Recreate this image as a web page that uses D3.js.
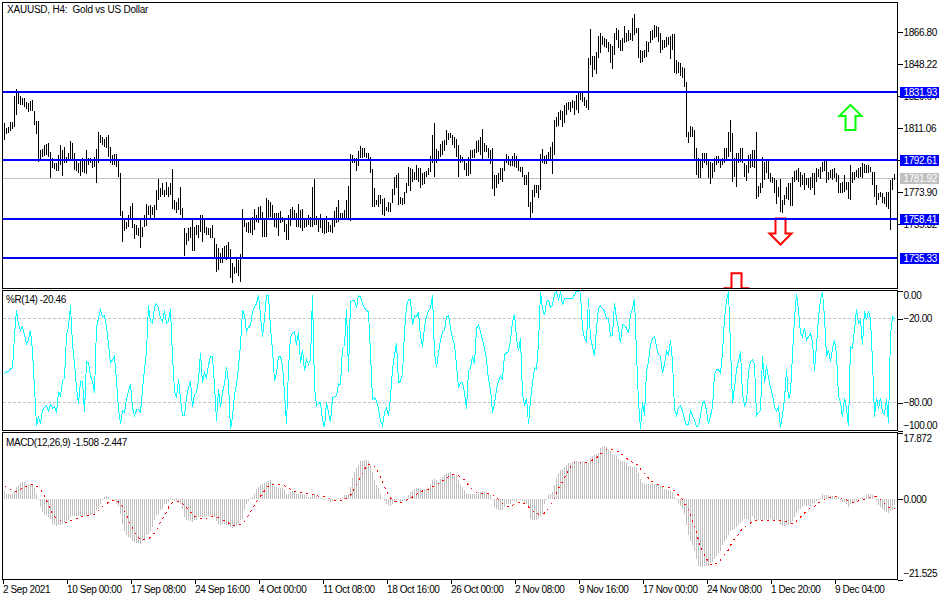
<!DOCTYPE html>
<html>
<head>
<meta charset="utf-8">
<script src="https://cdnjs.cloudflare.com/ajax/libs/d3/7.8.5/d3.min.js"></script>
<style>
  html, body { margin: 0; padding: 0; background: #fff; }
  svg { display: block; }
  text { font-family: "Liberation Sans", sans-serif; font-size: 10px; letter-spacing: -0.4px; fill: #000; }
</style>
</head>
<body>
<div id="chart"></div>
<script>
// H4 bars
const highs = [
1813.9,1811.0,1811.6,1814.7,1814.7,1829.8,1833.6,1831.3,1829.8,1828.4,1828.4,1826.5,1825.5,1827.1,1827.5,1821.3,1815.5,1815.3,1798.4,1798.8,
1801.3,1801.9,1802.3,1797.5,1793.6,1791.1,1790.7,1795.5,1801.1,1798.4,1800.4,1794.6,1796.5,1803.5,1802.3,1796.5,1792.6,1790.7,1793.0,1793.6,
1792.6,1798.4,1793.6,1793.6,1792.6,1794.6,1798.8,1808.7,1807.1,1805.8,1804.6,1805.8,1807.1,1800.4,1795.5,1796.1,1796.1,1792.6,1784.9,1763.2,
1757.8,1756.8,1760.7,1765.9,1767.5,1755.5,1754.9,1753.0,1758.8,1753.5,1760.7,1767.1,1765.9,1766.5,1765.5,1766.5,1775.2,1781.4,1776.2,1779.1,
1775.2,1780.0,1777.1,1779.1,1787.2,1769.4,1768.4,1770.4,1777.1,1764.6,1753.0,1750.1,1753.0,1753.9,1757.8,1753.9,1754.9,1754.9,1760.7,1760.7,
1757.8,1753.9,1753.0,1753.0,1754.9,1747.1,1743.9,1741.3,1738.8,1741.3,1742.7,1743.3,1745.2,1740.8,1732.6,1730.7,1735.5,1734.6,1738.1,1764.0,
1758.8,1755.9,1756.8,1757.8,1759.7,1764.0,1760.7,1765.5,1765.9,1762.6,1758.8,1770.4,1769.4,1768.4,1766.5,1761.7,1762.0,1761.7,1763.2,1759.7,
1757.8,1755.5,1760.7,1764.0,1765.1,1763.6,1761.7,1767.1,1763.6,1764.0,1758.8,1757.8,1760.7,1759.7,1776.8,1781.4,1760.1,1757.8,
1761.3,1758.8,1758.8,1760.1,1756.8,1754.9,1758.8,1763.2,1765.1,1769.4,1761.7,1761.7,1763.6,1769.4,1777.5,1796.1,1795.5,1793.6,1793.6,1797.8,
1800.7,1799.4,1799.4,1796.5,1796.5,1794.6,1787.2,1776.2,1769.4,1772.3,1772.3,1769.8,1770.4,1765.5,1768.4,1767.5,1775.6,1783.0,1783.9,1784.9,
1771.3,1770.4,1774.2,1779.1,1788.4,1787.8,1787.2,1785.8,1789.7,1787.8,1787.8,1784.9,1785.8,1786.4,1787.8,1794.9,1807.1,1813.9,1798.8,1798.0,
1801.9,1803.8,1804.2,1810.0,1808.1,1808.5,1807.1,1806.2,1804.6,1801.3,1795.5,1794.2,1792.6,1790.7,1794.6,1798.4,1798.4,1798.8,1803.5,1804.2,
1805.8,1810.4,1802.3,1801.3,1799.4,1798.4,1799.4,1783.9,1783.9,1784.9,1787.8,1787.8,1792.6,1796.1,1794.9,1793.0,1794.9,1796.5,1794.9,1793.0,
1788.8,1788.4,1783.9,1783.9,1785.5,1768.4,1775.2,1778.1,1778.1,1778.1,1796.1,1798.8,1794.9,1795.5,1797.5,1800.0,1803.3,1815.8,1817.8,1820.7,
1821.6,1821.3,1824.5,1825.5,1826.5,1826.5,1827.5,1827.1,1830.4,1832.3,1832.3,1831.3,1829.4,1827.5,1851.6,1868.5,1853.0,1853.0,1855.5,1864.6,
1866.2,1864.6,1863.2,1862.7,1861.3,1860.0,1858.8,1866.2,1869.1,1868.1,1862.3,1863.2,1870.4,1866.2,1868.1,1866.5,1874.9,1877.4,1869.1,1869.1,
1856.5,1856.1,1856.5,1861.9,1861.3,1867.7,1868.1,1871.0,1870.4,1869.6,1866.5,1862.3,1862.3,1864.2,1863.8,1864.6,1865.8,1865.8,1850.7,1849.7,
1848.7,1846.8,1845.8,1838.1,1809.1,1812.4,1812.0,1810.0,1799.4,1793.6,1793.0,1796.5,1796.5,1796.9,1792.6,1791.7,1790.7,1793.6,1794.9,1794.9,
1792.6,1793.6,1799.4,1799.4,1809.1,1815.8,1808.5,1793.6,1796.5,1796.9,1799.4,1799.4,1790.7,1789.7,1795.5,1796.1,1798.4,1798.4,1808.9,1777.5,
1779.1,1794.6,1791.7,1792.2,1792.6,1784.9,1783.0,1782.0,1781.0,1777.1,1781.6,1769.4,1772.3,1777.1,1779.1,1779.1,1783.0,1786.4,1786.8,1787.8,
1785.8,1783.9,1784.9,1782.0,1782.0,1783.0,1784.9,1785.3,1787.8,1787.2,1788.4,1791.7,1792.2,1792.2,1785.8,1786.8,1787.2,1787.8,1784.9,1783.9,
1779.5,1780.0,1783.9,1780.0,1780.0,1789.7,1785.8,1785.8,1786.8,1787.8,1788.8,1791.1,1790.3,1789.7,1789.7,1788.8,1785.8,1785.8,1778.1,1773.7,
1774.2,1773.3,1771.3,1774.2,1774.2,1781.0,1782.0,1784.5
];
const lows = [
1804.2,1807.7,1808.5,1809.6,1810.4,1811.6,1818.7,1825.1,1824.5,1824.4,1823.2,1822.0,1820.7,1821.3,1821.3,1812.9,1807.7,1791.7,1792.6,1794.2,
1794.9,1795.5,1794.6,1782.4,1787.8,1787.2,1786.4,1786.4,1789.7,1783.3,1790.7,1790.7,1793.0,1793.0,1792.6,1786.8,1786.2,1784.9,1783.3,1785.8,
1784.9,1784.5,1789.7,1790.7,1787.8,1788.4,1779.5,1790.7,1802.3,1801.3,1800.4,1799.4,1794.6,1790.7,1789.7,1789.7,1788.8,1782.9,1760.1,1745.2,
1751.6,1752.4,1753.9,1758.8,1753.0,1747.0,1749.1,1748.5,1741.7,1748.1,1753.9,1754.3,1760.7,1758.8,1760.7,1758.8,1763.6,1769.4,1771.3,1772.3,
1771.3,1772.3,1771.3,1772.3,1764.0,1763.6,1761.7,1763.6,1760.7,1758.2,1736.9,1743.3,1745.8,1747.1,1740.0,1740.0,1749.1,1747.1,1751.0,1745.2,
1750.1,1749.1,1749.1,1747.1,1747.1,1735.5,1727.8,1728.8,1732.6,1732.6,1735.5,1734.6,1735.5,1723.9,1721.4,1726.4,1726.8,1725.3,1722.0,1735.0,
1753.9,1751.0,1750.4,1750.1,1749.1,1752.0,1756.8,1755.9,1757.8,1748.1,1747.7,1747.7,1757.8,1759.7,1757.8,1753.9,1753.0,1748.5,1755.9,1756.8,
1751.0,1746.2,1746.2,1754.3,1758.8,1757.8,1753.9,1753.9,1753.0,1751.6,1753.0,1753.5,1754.9,1753.9,1753.9,1754.9,1754.9,1751.0,
1753.0,1750.1,1749.7,1750.1,1751.0,1750.6,1750.4,1753.9,1755.9,1756.8,1757.8,1758.8,1758.8,1757.8,1758.8,1757.2,1790.7,1790.7,1786.2,1789.3,
1793.6,1793.6,1794.6,1793.6,1792.6,1785.3,1765.1,1765.5,1766.5,1765.1,1767.1,1760.7,1760.3,1763.2,1762.6,1762.6,1767.5,1772.3,1776.2,1766.5,
1767.1,1766.5,1767.1,1773.3,1777.5,1774.8,1780.0,1781.0,1781.0,1780.0,1776.6,1778.1,1778.7,1783.0,1783.9,1785.8,1790.7,1783.0,1791.1,1793.0,
1794.6,1795.5,1798.0,1801.3,1804.2,1805.2,1801.3,1799.4,1794.6,1782.6,1790.7,1791.7,1786.8,1783.5,1783.5,1784.5,1793.6,1793.6,1796.5,1797.5,
1795.5,1792.6,1797.5,1797.5,1793.6,1790.3,1776.0,1771.9,1776.2,1778.7,1781.0,1780.0,1786.4,1790.7,1789.7,1789.1,1789.1,1788.8,1787.8,1786.4,
1785.8,1783.0,1778.1,1778.1,1765.5,1758.8,1761.7,1771.3,1773.3,1770.8,1775.2,1790.7,1790.3,1790.3,1792.6,1793.0,1784.5,1795.5,1812.0,1812.4,
1815.8,1812.0,1813.9,1818.7,1821.6,1820.7,1822.6,1818.7,1821.6,1819.7,1827.5,1826.5,1824.0,1822.6,1821.6,1847.8,1841.0,1844.9,1842.5,1851.6,
1854.9,1859.4,1858.4,1857.4,1855.5,1849.1,1845.3,1853.6,1862.3,1857.4,1856.1,1856.1,1860.3,1861.3,1861.9,1862.3,1861.9,1865.2,1866.2,1851.6,
1849.1,1849.7,1851.6,1852.6,1855.5,1860.3,1862.3,1863.2,1864.2,1861.3,1854.9,1856.5,1857.4,1858.4,1859.4,1851.1,1856.5,1842.9,1842.5,1843.3,
1841.4,1840.0,1834.8,1806.2,1802.3,1806.2,1806.2,1792.6,1783.9,1782.0,1782.0,1787.8,1790.7,1789.7,1782.0,1778.5,1782.0,1785.8,1789.7,1790.7,
1787.8,1789.7,1790.7,1792.6,1794.6,1797.5,1780.0,1783.0,1777.1,1790.7,1791.6,1790.7,1783.0,1780.6,1784.9,1787.8,1788.8,1787.8,1769.8,1771.3,
1773.3,1776.2,1781.0,1784.9,1781.4,1780.0,1779.1,1773.3,1767.1,1771.3,1762.6,1761.7,1766.5,1769.8,1769.4,1765.9,1765.9,1780.0,1781.0,1780.0,
1777.1,1778.1,1775.2,1778.1,1776.2,1775.2,1776.2,1772.3,1780.0,1783.0,1781.4,1785.8,1786.4,1779.5,1781.0,1782.0,1781.0,1782.0,1780.0,1773.7,
1773.7,1773.3,1774.2,1775.2,1769.8,1769.4,1779.1,1781.0,1783.0,1782.0,1783.0,1782.0,1784.9,1784.9,1784.9,1785.8,1778.1,1771.3,1766.5,1769.4,
1771.3,1767.5,1767.1,1765.5,1764.0,1752.0,1775.2,1781.0
];
const wpr = [
-59.5,-58.1,-58.1,-55.8,-55.3,-32.2,-14.1,-24.2,-28.2,-25.9,-31.8,-38.4,-35.3,-28.2,-43.5,-69.4,-96.5,-90.6,-95.3,
-85.4,-83.5,-82.4,-85.9,-81.6,-84.0,-83.1,-87.1,-72.9,-75.3,-64.7,-62.4,-31.8,-25.9,-10.6,-38.8,-51.8,-69.4,-81.2,-64.7,
-64.7,-87.1,-50.6,-51.8,-61.2,-64.7,-72.9,-25.9,-20.0,-14.1,-18.8,-18.1,-25.9,-38.8,-51.8,-49.4,-47.1,-64.7,-84.7,-95.3,
-85.9,-87.1,-77.6,-71.8,-67.1,-83.5,-89.4,-85.4,-84.7,-87.1,-70.6,-56.5,-43.5,-10.6,-22.4,-23.5,-11.8,-9.4,-12.9,-20.0,
-22.4,-14.1,-23.5,-22.4,-12.9,-47.1,-71.8,-76.5,-63.5,-77.6,-89.4,-89.4,-76.5,-69.4,-64.7,-83.5,-74.1,-72.9,-63.5,-44.7,
-65.9,-58.8,-62.4,-52.9,-47.1,-47.1,-67.1,-92.9,-70.6,-83.5,-72.9,-67.1,-54.8,-65.9,-98.8,-90.6,-74.1,-67.1,-54.1,-38.8,
-14.1,-17.6,-29.4,-25.9,-24.7,-15.3,-11.8,-9.4,-3.5,-17.6,-32.9,-20.0,-3.5,-3.5,-27.1,-42.4,-64.7,-58.8,-47.1,-47.1,
-52.9,-72.9,-95.3,-55.3,-32.9,-30.6,-29.4,-38.8,-29.4,-51.8,-42.4,-57.6,-49.4,-52.9,-49.4,-3.5,-69.4,-82.4,-80.7,
-80.0,-92.9,-97.6,-80.0,-87.1,-94.1,-76.5,-76.0,-75.3,-66.6,-67.1,-41.2,-40.0,-12.9,-58.1,-8.2,-7.3,-7.3,-12.5,-3.5,
-4.7,-9.4,-12.5,-14.1,-15.3,-44.7,-77.6,-76.5,-78.8,-84.7,-92.9,-96.5,-87.1,-84.0,-89.4,-76.5,-56.5,-45.9,-37.6,-65.9,
-64.7,-60.0,-29.4,-11.8,-6.4,-6.4,-24.7,-18.1,-18.8,-15.3,-32.9,-40.0,-25.9,-18.8,-14.1,-12.9,-3.5,-44.7,-54.8,-44.7,
-35.3,-29.4,-28.2,-18.8,-18.1,-27.1,-34.1,-38.8,-52.9,-69.4,-65.9,-65.9,-72.9,-84.7,-57.6,-55.3,-47.1,-52.5,-27.1,-24.7,
-29.4,-35.3,-41.2,-49.4,-63.5,-70.6,-87.1,-81.2,-70.6,-64.7,-61.2,-63.5,-45.9,-44.7,-43.5,-35.3,-22.4,-16.5,-34.1,-43.5,
-34.1,-74.1,-82.4,-76.5,-95.3,-78.8,-65.9,-55.3,-56.5,-37.6,-1.2,-12.9,-17.6,-7.8,-7.1,-11.8,-10.6,-2.4,-0.7,-7.1,
-0.7,-10.6,-5.4,-5.4,-5.9,-5.9,-5.4,-3.1,-0.7,-0.7,-2.4,-27.1,-34.1,-36.5,-5.4,-34.1,-40.0,-47.1,-27.1,-12.9,
-11.1,-12.9,-14.8,-20.0,-20.0,-32.9,-31.8,-8.7,-20.0,-27.1,-37.6,-24.2,-24.7,-27.1,-30.6,-17.6,-12.9,-5.9,-44.7,-80.0,
-98.8,-80.0,-89.4,-57.6,-50.6,-38.8,-34.1,-32.9,-40.0,-45.9,-47.1,-58.8,-52.9,-43.5,-45.9,-35.3,-50.6,-84.7,-89.4,-83.5,
-82.4,-85.9,-91.8,-96.5,-95.3,-85.9,-89.4,-92.9,-97.2,-96.5,-89.4,-80.0,-79.3,-85.9,-95.3,-89.4,-83.5,-60.0,-56.5,-56.5,
-58.8,-44.7,-20.0,-7.1,-0.7,-40.0,-80.0,-69.4,-56.5,-50.6,-43.5,-74.1,-82.4,-80.0,-57.6,-50.6,-49.4,-52.9,-89.4,-87.1,
-85.9,-47.1,-65.9,-54.1,-62.4,-69.4,-74.1,-83.5,-85.9,-83.5,-97.6,-89.4,-77.6,-56.5,-77.6,-72.9,-45.9,-20.0,-2.4,-14.1,
-30.6,-32.9,-27.1,-35.3,-32.9,-30.6,-36.5,-57.6,-38.8,-20.0,-5.9,-1.2,-18.8,-47.1,-42.4,-51.1,-41.2,-35.3,-45.9,-75.3,
-80.0,-90.6,-76.5,-84.7,-96.5,-40.0,-41.2,-28.2,-13.4,-23.5,-21.2,-38.8,-14.8,-21.2,-14.8,-20.0,-50.6,-90.1,-76.5,-84.7,
-76.5,-87.1,-88.2,-77.6,-94.8,-31.8,-18.8,-20.46
];
const macdHist = [
2.2,1.5,1.3,1.5,1.5,2.2,3.3,3.8,4.4,4.7,4.7,4.2,3.8,4.0,4.2,2.9,1.5,-0.1,-2.2,-3.4,
-3.9,-4.3,-4.9,-5.2,-6.6,-6.8,-7.2,-7.0,-6.8,-6.6,-6.1,-5.8,-5.5,-4.9,-4.6,-4.6,-4.6,-4.6,-4.6,-4.6,
-4.3,-4.5,-4.5,-4.2,-4.0,-3.9,-3.0,-2.5,-1.3,-0.1,0.6,0.9,0.6,-0.3,-0.4,-0.4,-1.3,-1.9,-3.9,-6.6,
-8.4,-9.7,-10.2,-10.3,-11.2,-11.5,-11.7,-11.8,-12.1,-11.2,-10.6,-9.7,-9.3,-8.4,-7.5,-5.7,-4.3,-3.9,-3.0,-2.5,
-1.3,-1.3,-0.7,0.2,-0.1,-0.4,-0.4,-1.0,-1.2,-2.5,-4.9,-5.5,-5.7,-5.8,-6.1,-5.7,-5.5,-4.9,-4.8,-4.9,
-4.8,-4.6,-4.6,-4.6,-4.6,-4.9,-5.8,-6.6,-7.0,-6.7,-6.6,-7.0,-7.2,-7.5,-7.6,-7.5,-7.3,-7.0,-5.7,-5.2,
-2.8,-1.3,-0.4,0.2,0.6,1.5,2.6,3.3,3.8,4.2,4.4,4.7,4.9,5.1,4.4,3.5,3.3,3.1,3.1,3.1,
2.6,1.5,1.3,2.0,2.2,2.0,1.5,1.5,1.7,1.5,1.1,1.1,0.6,0.6,1.5,1.5,0.8,0.2,
0.2,0.2,-0.1,-0.3,-0.4,-0.7,-0.4,-0.3,-0.1,0.2,0.4,0.6,1.1,1.1,1.5,3.3,5.6,7.4,8.3,9.2,
10.1,10.3,10.5,10.5,10.3,9.2,7.4,5.1,3.8,2.9,1.5,0.2,-0.4,-1.2,-1.6,-1.9,-1.3,-0.4,-0.1,-0.3,
-0.7,-0.4,-0.1,-0.1,1.1,2.0,2.2,2.6,2.9,2.9,2.6,2.4,2.6,2.6,2.9,4.0,5.1,5.3,5.1,4.7,
5.3,6.0,6.5,6.9,7.1,7.4,6.5,6.7,6.5,5.1,3.8,3.3,2.4,1.5,1.3,1.3,1.3,1.5,1.5,2.0,
2.0,2.2,2.0,2.0,1.5,1.1,-0.1,-2.2,-2.5,-2.8,-2.8,-3.0,-2.2,-1.3,-1.2,-1.2,-0.4,-0.4,-0.7,-0.1,
-0.1,-0.4,-1.0,-1.3,-1.9,-5.2,-5.5,-5.7,-5.7,-5.2,-4.6,-3.9,-1.3,-0.1,1.1,1.5,2.0,3.8,5.6,6.9,
7.8,8.0,8.5,9.2,9.6,9.8,9.9,10.1,10.1,9.9,9.6,10.1,9.9,9.6,9.6,11.0,11.6,11.9,12.1,12.5,
13.7,14.1,14.3,14.1,13.2,12.8,12.1,11.9,11.6,10.7,10.3,10.1,9.9,9.6,8.9,8.9,8.7,8.7,8.3,6.9,
5.3,4.4,4.2,4.2,4.0,4.2,4.4,4.2,4.0,3.8,3.5,3.3,2.6,2.6,2.4,2.2,2.0,0.6,-0.3,-1.0,
-1.9,-2.5,-3.9,-7.0,-9.7,-11.1,-12.4,-13.9,-16.0,-17.8,-18.3,-18.3,-17.8,-17.8,-17.8,-17.2,-16.9,-16.0,-15.1,-14.5,
-13.8,-12.4,-11.5,-10.6,-9.7,-8.5,-8.2,-7.9,-7.5,-7.0,-6.4,-5.8,-5.2,-5.2,-5.5,-6.1,-4.6,-5.2,-5.7,-5.7,
-5.5,-5.7,-5.5,-5.5,-5.5,-5.2,-5.5,-5.5,-5.7,-5.8,-7.0,-7.3,-7.3,-7.0,-7.0,-6.7,-5.8,-4.9,-3.7,-3.0,
-2.5,-2.2,-1.6,-1.9,-1.6,-1.9,-1.3,-1.0,-0.4,-0.1,0.2,1.3,1.1,1.1,1.1,0.8,0.8,0.6,0.2,0.6,
-0.1,-0.7,-0.7,-1.2,-2.1,-1.3,-1.0,-0.7,-0.4,-0.7,0.2,0.6,0.2,1.1,1.3,1.5,1.1,0.2,-0.4,-1.6,
-2.2,-2.5,-3.1,-3.4,-3.7,-3.1,-2.8,-1.508
];
const macdSignal = [
3.6,3.1,2.9,2.6,2.2,2.0,2.2,2.4,2.6,2.9,3.1,3.5,3.8,4.0,4.0,4.0,3.5,3.1,2.6,1.7,
0.8,-0.3,-1.6,-2.8,-3.9,-4.6,-5.1,-5.4,-5.7,-6.0,-6.3,-6.3,-6.1,-5.8,-5.7,-5.5,-5.2,-4.9,-4.8,-4.6,
-4.5,-4.5,-4.5,-4.4,-4.2,-4.0,-3.7,-3.1,-2.5,-1.9,-1.7,-1.3,-0.7,-0.4,-0.3,-0.3,-0.3,-0.7,-1.3,-2.1,
-3.1,-4.3,-5.5,-6.6,-7.7,-8.8,-9.7,-10.2,-10.8,-10.9,-10.9,-10.8,-10.6,-10.2,-9.7,-9.1,-8.2,-7.0,-6.1,-5.2,
-4.3,-3.4,-2.2,-1.3,-1.0,-0.6,-0.5,-0.6,-0.7,-1.2,-1.6,-2.2,-2.8,-3.4,-3.9,-4.5,-4.9,-5.3,-5.3,-5.3,
-5.2,-5.1,-4.9,-4.8,-4.6,-4.6,-4.8,-5.0,-5.2,-5.5,-5.8,-6.0,-6.4,-6.7,-7.0,-7.1,-7.1,-7.0,-6.8,-6.6,
-6.0,-5.2,-4.3,-3.4,-2.5,-1.6,-0.7,0.2,0.8,1.5,2.2,3.1,3.5,3.9,4.0,4.0,4.0,4.0,4.0,4.0,
3.6,3.1,2.9,2.6,2.2,2.0,1.9,1.7,1.7,1.7,1.5,1.5,1.3,1.3,1.3,1.3,1.1,0.8,
0.6,0.7,0.6,0.4,0.4,0,-0.4,-0.4,-0.4,-0.4,-0.4,-0.1,0.2,0.2,0.6,1.1,1.8,2.9,3.8,4.9,
6.0,6.9,8.0,8.9,9.4,9.4,9.2,8.7,8.0,7.1,5.8,4.7,3.3,2.2,1.1,0.4,-0.3,-0.5,-0.7,-0.8,
-0.9,-0.9,-0.6,-0.3,-0.1,0.3,0.6,0.9,1.3,1.5,1.9,2.2,2.4,2.6,2.6,2.9,3.3,3.6,3.8,4.2,
4.7,4.9,5.3,5.8,6.0,6.4,6.5,6.6,6.6,6.3,6.0,5.6,5.1,4.4,3.8,3.1,2.6,2.2,1.8,1.7,
1.7,1.5,1.5,1.5,1.5,1.5,1.3,0.8,0.3,-0.1,-0.6,-1.2,-1.6,-1.9,-1.9,-1.9,-1.6,-1.3,-1.2,-1.0,
-0.8,-0.8,-1.2,-1.6,-2.1,-2.5,-3.0,-3.5,-3.9,-4.0,-4.1,-4.0,-3.7,-3.2,-2.5,-1.6,-0.5,0.2,1.5,2.9,
3.8,4.7,5.6,6.9,7.8,8.7,9.4,9.9,10.1,10.1,9.9,9.9,9.9,9.9,10.1,10.3,10.5,10.7,11.0,11.6,
12.1,12.5,13.0,13.2,13.2,13.4,13.4,13.4,13.0,12.8,12.3,11.9,11.4,11.0,10.5,10.3,9.9,9.6,9.4,9.2,
8.0,7.6,6.9,6.3,5.6,4.7,4.7,4.4,4.0,3.9,3.8,3.5,3.1,3.1,3.1,2.9,2.6,2.2,1.7,1.1,
0.4,-0.1,-1.3,-1.9,-3.0,-4.3,-5.8,-7.5,-8.8,-11.1,-12.7,-13.8,-15.1,-16.0,-16.6,-17.4,-17.6,-17.6,-17.2,-16.9,
-16.3,-15.4,-14.8,-14.2,-13.6,-12.4,-11.5,-10.6,-10.2,-9.3,-8.5,-7.9,-7.5,-7.0,-6.7,-6.4,-6.1,-5.8,-5.8,-5.8,
-5.8,-5.7,-5.7,-5.7,-5.7,-5.7,-5.7,-5.7,-5.8,-5.8,-5.8,-5.9,-6.0,-6.0,-6.2,-6.5,-6.6,-6.4,-5.8,-5.2,
-4.8,-4.3,-3.7,-3.4,-2.8,-2.3,-2.1,-1.9,-1.3,-1.0,-0.7,-0.7,-0.1,0.2,0.3,0.4,0.6,0.6,0.6,0.6,
0.4,0.2,-0.1,-0.1,-0.5,-0.6,-0.8,-0.8,-0.6,-0.4,-0.3,-0.1,0,0.2,0.4,0.6,0.8,0.7,0.6,0.4,
-0.1,-0.4,-1.2,-1.6,-2.1,-2.3,-2.5,-2.447
];

const priceTicks = [1866.80, 1848.22, 1829.64, 1811.06, 1792.48, 1773.90, 1755.32];
const wprTicks = [0, -20, -80, -100];
const wprLevels = [-20, -80];
const macdTicks = [17.872, 0, -21.525];
const timeTickBars = [-1, 31, 63, 95, 127, 159, 191, 223, 255, 287, 319, 351, 383, 415];
const timeLabels = ["2 Sep 2021", "10 Sep 00:00", "17 Sep 08:00", "24 Sep 16:00", "4 Oct 00:00", "11 Oct 08:00", "18 Oct 16:00",
    "26 Oct 00:00", "2 Nov 08:00", "9 Nov 16:00", "17 Nov 00:00", "24 Nov 08:00", "1 Dec 20:00", "9 Dec 04:00"];
const levels = [1831.93, 1792.61, 1758.41, 1735.33];
const lastPrice = 1781.92;
const arrowsUp = [{ bar: 423, price: 1824.6 }];
const arrowsDown = [{ bar: 388, price: 1758.6 }, { bar: 366, price: 1726.9 }];

const width = 950, height = 600;
const left = 2.5, right = 897.5;
const pane1 = { top: 2.5, bottom: 288.5 };
const pane2 = { top: 290.5, bottom: 430.5 };
const pane3 = { top: 432.5, bottom: 579.5 };

const svg = d3.select("#chart").append("svg")
    .attr("width", width)
    .attr("height", height);

const x = d3.scaleLinear().domain([0, 445]).range([4.5, 894.5]);
const yPrice = d3.scaleLinear().domain([1866.80, 1755.32]).range([32.2, 224.2]);
const yWpr = d3.scaleLinear().domain([0, -100]).range([290.5, 430.5]);
const yMacd = d3.scaleLinear().domain([17.872, -21.525]).range([pane3.top, pane3.bottom]);

const crisp = sel => sel.attr("shape-rendering", "crispEdges");
// blue levels and their tags snap to one pixel row
const levelRow = v => Math.round(yPrice(v) - 0.2);

const defs = svg.append("defs");
defs.append("clipPath").attr("id", "clip-main")
    .append("rect").attr("x", left).attr("y", pane1.top).attr("width", right - left).attr("height", pane1.bottom - pane1.top);
defs.append("clipPath").attr("id", "clip-wpr")
    .append("rect").attr("x", left).attr("y", pane2.top).attr("width", right - left).attr("height", pane2.bottom - pane2.top);

// last price line sits behind the bars
svg.append("line")
    .attr("x1", left).attr("x2", right)
    .attr("y1", yPrice(lastPrice)).attr("y2", yPrice(lastPrice))
    .attr("stroke", "#c0c0c0").call(crisp);

// bars
svg.append("g").attr("clip-path", "url(#clip-main)")
    .selectAll("line").data(highs).enter().append("line")
    .attr("x1", (d, i) => x(i)).attr("x2", (d, i) => x(i))
    .attr("y1", d => yPrice(d))
    .attr("y2", (d, i) => yPrice(lows[i]))
    .attr("stroke", "#000").call(crisp);

// arrows
const arrowG = svg.append("g").attr("clip-path", "url(#clip-main)");
const upShape = "M0,0 L11,11 L5,11 L5,25 L-5,25 L-5,11 L-11,11 Z";
const downShape = "M-5,0 L5,0 L5,15 L11,15 L0,26 L-11,15 L-5,15 Z";
arrowG.selectAll(".up").data(arrowsUp).enter().append("path")
    .attr("class", "up")
    .attr("d", upShape)
    .attr("transform", d => `translate(${x(d.bar)},${yPrice(d.price)})`)
    .attr("fill", "#fff").attr("stroke", "#00ff00").attr("stroke-width", 2);
arrowG.selectAll(".down").data(arrowsDown).enter().append("path")
    .attr("class", "down")
    .attr("d", downShape)
    .attr("transform", d => `translate(${x(d.bar)},${yPrice(d.price)})`)
    .attr("fill", "#fff").attr("stroke", "#ff0000").attr("stroke-width", 2);

// horizontal levels
svg.selectAll(".level").data(levels).enter().append("line")
    .attr("class", "level")
    .attr("x1", left).attr("x2", right)
    .attr("y1", levelRow).attr("y2", levelRow)
    .attr("stroke", "#0000ff").attr("stroke-width", 2).call(crisp);

// %R pane
svg.selectAll(".wpr-level").data(wprLevels).enter().append("line")
    .attr("class", "wpr-level")
    .attr("x1", left).attr("x2", right)
    .attr("y1", d => yWpr(d)).attr("y2", d => yWpr(d))
    .attr("stroke", "#c0c0c0").attr("stroke-dasharray", "3,2").call(crisp);

const wprLine = d3.line().x((d, i) => x(i)).y(d => yWpr(d));
svg.append("path").datum(wpr)
    .attr("clip-path", "url(#clip-wpr)")
    .attr("d", wprLine)
    .attr("fill", "none").attr("stroke", "#00ffff").attr("stroke-width", 1).call(crisp);

// MACD pane
svg.append("g").selectAll("line").data(macdHist).enter().append("line")
    .attr("x1", (d, i) => x(i)).attr("x2", (d, i) => x(i))
    .attr("y1", yMacd(0)).attr("y2", d => yMacd(d))
    .attr("stroke", "#c0c0c0").call(crisp);

const signalLine = d3.line().x((d, i) => x(i)).y(d => yMacd(d));
svg.append("path").datum(macdSignal)
    .attr("d", signalLine)
    .attr("fill", "none").attr("stroke", "#ff0000").attr("stroke-dasharray", "2,4").call(crisp);

// frames
[pane1, pane2, pane3].forEach(p => {
    svg.append("rect")
        .attr("x", left).attr("y", p.top)
        .attr("width", right - left).attr("height", p.bottom - p.top)
        .attr("fill", "none").attr("stroke", "#000").call(crisp);
});

// axes
const priceAxis = svg.append("g").attr("transform", `translate(${right},0)`)
    .call(d3.axisRight(yPrice).tickValues(priceTicks).tickSize(5).tickPadding(1).tickFormat(d3.format(".2f")));
const wprAxis = svg.append("g").attr("transform", `translate(${right},0)`)
    .call(d3.axisRight(yWpr).tickValues(wprTicks).tickSize(5).tickPadding(1).tickFormat(d3.format(".2f")));
const macdAxis = svg.append("g").attr("transform", `translate(${right},0)`)
    .call(d3.axisRight(yMacd).tickValues(macdTicks).tickSize(5).tickPadding(1).tickFormat(d3.format(".3f")));
const timeAxis = svg.append("g").attr("transform", `translate(0,${pane3.bottom})`)
    .call(d3.axisBottom(x).tickValues(timeTickBars).tickSize(4).tickPadding(2).tickFormat((d, i) => timeLabels[i]));

[priceAxis, wprAxis, macdAxis, timeAxis].forEach(a => {
    a.select(".domain").remove();
    a.selectAll("line").call(crisp);
    a.attr("font-family", null).attr("font-size", null);
});
timeAxis.selectAll("text").attr("text-anchor", "start").attr("x", 0);
// top and bottom scale labels are pushed inside the pane
wprAxis.selectAll("text").filter(d => d === 0).attr("y", 4.5);
wprAxis.selectAll("text").filter(d => d === -100).attr("y", -5);
macdAxis.selectAll("text").filter(d => d === 17.872).attr("y", 5.5);
macdAxis.selectAll("text").filter(d => d === -21.525).attr("y", -6);

// price tags
const tags = levels.map(v => ({ v: v, fill: "#0000ff" })).concat([{ v: lastPrice, fill: "#c0c0c0" }]);
const tagG = svg.selectAll(".tag").data(tags).enter().append("g")
    .attr("class", "tag")
    .attr("transform", d => `translate(900,${levelRow(d.v)})`);
tagG.append("rect").attr("x", 0).attr("y", -5.5).attr("width", 39).attr("height", 11).attr("fill", d => d.fill).call(crisp);
tagG.append("text").attr("x", 3.5).attr("y", 3.5).style("fill", "#fff").text(d => d.v.toFixed(2));

// pane titles
svg.append("text").attr("x", 7).attr("y", 13).style("letter-spacing", "-0.22px").text("XAUUSD, H4:\u00a0 Gold vs US Dollar");
svg.append("text").attr("x", 6).attr("y", 303).text("%R(14) -20.46");
svg.append("text").attr("x", 6).attr("y", 446).text("MACD(12,26,9) -1.508 -2.447");
</script>
</body>
</html>
